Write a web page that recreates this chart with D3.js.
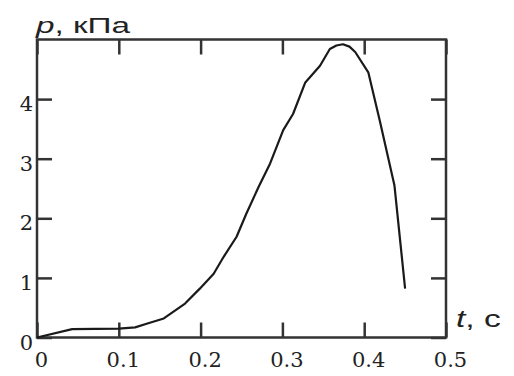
<!DOCTYPE html>
<html><head><meta charset="utf-8">
<script src="https://cdn.jsdelivr.net/npm/d3@7"></script>
<style>html,body{margin:0;padding:0;background:#fff;}</style>
</head><body>
<script>
const tValues = [0, 0.043, 0.10, 0.12, 0.134, 0.155, 0.181, 0.199, 0.216, 0.228, 0.244, 0.256, 0.271, 0.285, 0.301, 0.313, 0.328, 0.346, 0.358, 0.366, 0.374, 0.382, 0.389, 0.405, 0.419, 0.437, 0.45];
const pValues = [0, 0.14, 0.15, 0.17, 0.23, 0.32, 0.57, 0.82, 1.07, 1.35, 1.69, 2.08, 2.53, 2.92, 3.48, 3.75, 4.28, 4.56, 4.84, 4.90, 4.92, 4.88, 4.79, 4.45, 3.64, 2.55, 0.82];
const xTicks = [0, 0.1, 0.2, 0.3, 0.4, 0.5];
const yTicks = [0, 1, 2, 3, 4];
const yLabel = ["p", ", кПа"];
const xLabel = ["t", ", с"];

const W = 514, H = 376;
const m = {left: 37, top: 39.5, right: 68, bottom: 38.5};
const iw = W - m.left - m.right, ih = H - m.top - m.bottom;

const svg = d3.select("body").append("svg").attr("width", W).attr("height", H);
const g = svg.append("g").attr("transform", `translate(${m.left},${m.top})`);

const x = d3.scaleLinear().domain([0, 0.5]).range([0, iw]);
const y = d3.scaleLinear().domain([0, 5]).range([ih, 0]);

const frameColor = "#333";
const TL = 15;
const serif = '"DejaVu Serif", serif';
const tickFmtX = d => d === 0 ? "0" : d3.format(".1f")(d);

function styleAxis(sel) {
  sel.attr("font-family", serif).attr("font-size", 21);
  sel.select(".domain").remove();
  sel.selectAll("line").attr("stroke", frameColor).attr("stroke-width", 2.5);
  sel.selectAll("text").attr("fill", "#222");
}

// bottom
const gb = g.append("g").attr("transform", `translate(0,${ih})`)
  .call(d3.axisBottom(x).tickValues(xTicks).tickFormat(tickFmtX).tickSize(-TL).tickPadding(15));
styleAxis(gb);
gb.selectAll("text").attr("transform", "translate(4,0)");
// top
const gt = g.append("g")
  .call(d3.axisTop(x).tickValues(xTicks).tickFormat("").tickSize(-TL));
styleAxis(gt);
// left
const gl = g.append("g")
  .call(d3.axisLeft(y).tickValues(yTicks).tickFormat(d3.format("d")).tickSize(-TL).tickPadding(4));
styleAxis(gl);
gl.selectAll("text").attr("dy", "0.55em");
// right
const gr = g.append("g").attr("transform", `translate(${iw},0)`)
  .call(d3.axisRight(y).tickValues(yTicks).tickFormat("").tickSize(-TL));
styleAxis(gr);

// frame
g.append("rect").attr("x", 0).attr("y", 0).attr("width", iw).attr("height", ih)
  .attr("fill", "none").attr("stroke", frameColor).attr("stroke-width", 2.5);

// curve
const data = tValues.map((t, i) => ({t, p: pValues[i]}));
g.append("path").datum(data)
  .attr("fill", "none").attr("stroke", "#1a1a1a").attr("stroke-width", 2.2)
  .attr("stroke-linejoin", "round")
  .attr("d", d3.line().x(d => x(d.t)).y(d => y(d.p)));

// axis titles
const ty = svg.append("text").attr("transform", "translate(36,33) scale(1.55,1)")
  .attr("font-family", '"Liberation Sans", Arial, sans-serif').attr("font-size", 21.5).attr("fill", "#222");
ty.append("tspan").attr("font-style", "italic").text(yLabel[0]);
ty.append("tspan").text(yLabel[1]);

const tx = svg.append("text").attr("transform", "translate(456,327) scale(1.4,1)")
  .attr("font-family", '"Liberation Sans", Arial, sans-serif').attr("font-size", 24).attr("fill", "#222");
tx.append("tspan").attr("font-style", "italic").text(xLabel[0]);
tx.append("tspan").text(xLabel[1]);
</script>
</body></html>
